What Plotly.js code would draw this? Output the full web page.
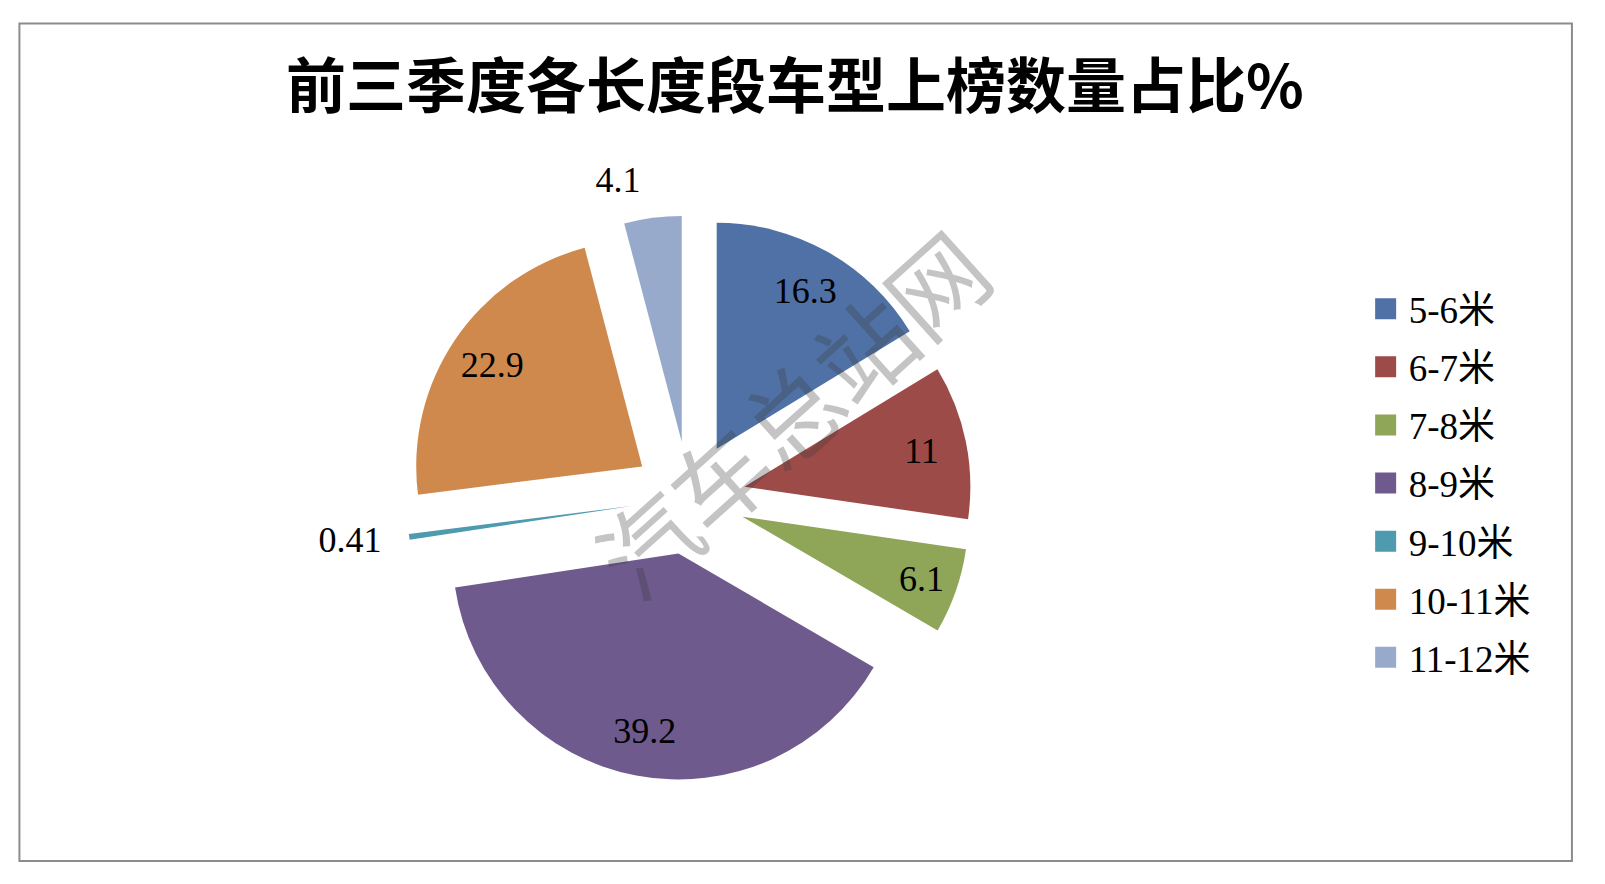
<!DOCTYPE html>
<html>
<head>
<meta charset="utf-8">
<script src="https://cdn.plot.ly/plotly-3.0.1.min.js"></script>
<style>html,body{margin:0;padding:0;background:#fff;}#chart{width:1605px;height:884px;}</style>
</head>
<body>
<div id="chart"></div>
<script>
const categories = ['5-6米', '6-7米', '7-8米', '8-9米', '9-10米', '10-11米', '11-12米'];
const shares = [16.3, 11, 6.1, 39.2, 0.41, 22.9, 4.1];
const colors = ['#4f71a5', '#9d4b48', '#8fa659', '#6e5a8d', '#4e9aaf', '#cf894c', '#98aacc'];
const insideLabel = [true, true, true, true, false, true, false];
const titleText = '前三季度各长度段车型上榜数量占比%';
const watermarkText = '汽车总站网';

const serif = '"Liberation Serif", "Times New Roman", "Noto Sans CJK SC", serif';
const pieDomain = {x: [0.2533, 0.6053], y: [0.1171, 0.7562]};
const outerLabelDomain = {x: [0.2421, 0.6165], y: [0.0967, 0.7766]};
const labelFont = {family: serif, size: 36, color: '#000'};
const clear = shares.map(() => 'rgba(0,0,0,0)');

const baseSlice = {
  type: 'pie',
  labels: categories,
  values: shares,
  sort: false,
  direction: 'clockwise',
  rotation: 0,
  showlegend: false
};

const traces = [
  Object.assign({}, baseSlice, {
    // coloured slices
    pull: shares.map(() => 0.25),
    marker: {colors: colors, line: {width: 0}},
    textinfo: 'none',
    domain: pieDomain,
    hoverinfo: 'label+value'
  }),
  Object.assign({}, baseSlice, {
    // transparent ring carrying the inside value labels
    pull: shares.map(() => 0.25),
    hole: 0.6,
    marker: {colors: clear, line: {width: 0}},
    texttemplate: '%{value}',
    textposition: insideLabel.map(v => v ? 'inside' : 'none'),
    insidetextorientation: 'horizontal',
    textfont: labelFont,
    insidetextfont: labelFont,
    domain: pieDomain,
    hoverinfo: 'skip'
  }),
  Object.assign({}, baseSlice, {
    // transparent copy carrying the outside labels of the thin slices
    pull: shares.map(() => 0.33),
    marker: {colors: clear, line: {width: 0}},
    texttemplate: '%{value}',
    textposition: insideLabel.map(v => v ? 'none' : 'outside'),
    textfont: labelFont,
    outsidetextfont: labelFont,
    domain: outerLabelDomain,
    hoverinfo: 'skip'
  })
];

categories.forEach((name, i) => {
  traces.push({
    type: 'scatter',
    mode: 'markers',
    x: [null], y: [null],
    name: name,
    legendgroup: 'g' + i,
    showlegend: true,
    marker: {symbol: 'square', size: 16, color: colors[i], line: {color: colors[i], width: 5}},
    hoverinfo: 'skip'
  });
});

const layout = {
  width: 1605,
  height: 884,
  margin: {l: 0, r: 0, t: 0, b: 0},
  paper_bgcolor: '#ffffff',
  plot_bgcolor: 'rgba(0,0,0,0)',
  title: {
    text: '<b>' + titleText + '</b>',
    x: 0.4953, xanchor: 'center',
    y: 0.9016, yanchor: 'middle',
    font: {family: '"Noto Sans CJK SC", sans-serif', size: 60, color: '#000'}
  },
  xaxis: {visible: false},
  yaxis: {visible: false},
  showlegend: true,
  legend: {
    x: 0.849, xanchor: 'left',
    y: 0.6853, yanchor: 'top',
    font: {family: serif, size: 37, color: '#000'},
    itemwidth: 36,
    tracegroupgap: 7,
    bgcolor: 'rgba(0,0,0,0)'
  },
  shapes: [{
    type: 'rect', xref: 'paper', yref: 'paper',
    x0: 0.0121, x1: 0.9794, y0: 0.026, y1: 0.9734,
    line: {color: '#8c8c8c', width: 2}
  }],
  annotations: [{
    text: watermarkText,
    xref: 'paper', yref: 'paper',
    x: 0.4916, y: 0.535,
    showarrow: false,
    textangle: -42,
    font: {family: '"Noto Sans CJK SC", sans-serif', size: 97, color: 'rgba(60,60,60,0.3)'}
  }]
};

Plotly.newPlot('chart', traces, layout, {displayModeBar: false, staticPlot: true});
</script>
</body>
</html>
